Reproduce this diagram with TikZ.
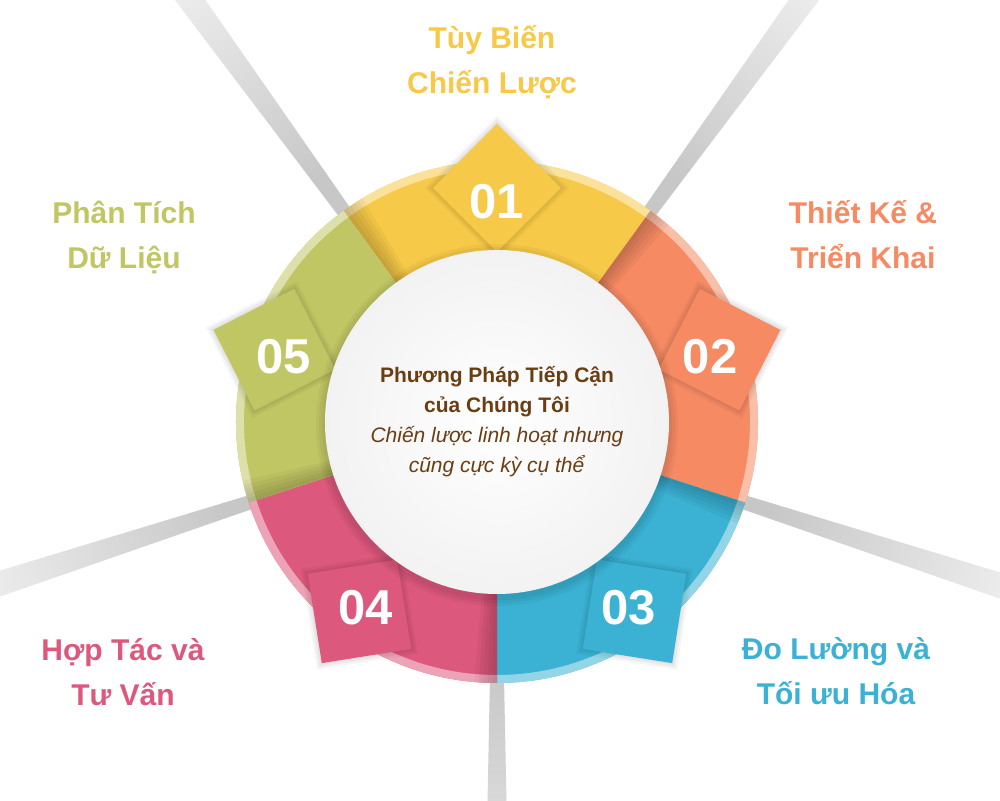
\documentclass[tikz,border=0pt]{standalone}
\usepackage{fontspec}
\setmainfont{Liberation Sans}
\usetikzlibrary{calc}

\begin{document}
\begin{tikzpicture}[x=1pt, y=1pt,
   numlabel/.style = {text=white, font=\fontsize{49}{49}\selectfont\bfseries, inner sep=0},
   sidelabel/.style = {font=\fontsize{30}{45}\selectfont\bfseries, align=center, anchor=base, inner sep=0},
   hub/.style = {circle, minimum size=344, inner sep=0, inner color=white, outer color=black!5,
                 text=centercolor, align=center, font=\fontsize{21}{30}\selectfont},
   shadowlayer/.style = {fill=black, opacity=.04},
   ]

% Define step colors
\definecolor{tuycolor}{HTML}{F7C948}
\definecolor{thietcolor}{HTML}{F58A63}
\definecolor{docolor}{HTML}{3BB2D4}
\definecolor{hopcolor}{HTML}{DC587C}
\definecolor{phancolor}{HTML}{C1C664}
\definecolor{centercolor}{HTML}{6B3E12}

\useasboundingbox (-497,-378) rectangle (503,422);
\fill[white] (-497,-378) rectangle (503,422);
\clip (-497,-378) rectangle (503,422);

% light rays behind the ring
\foreach \r in {126,54,-18,-90,198}
   \shade[top color=white, bottom color=black!22, shading angle=\r-90]
      (\r-1.6:240) -- (\r-1.3:700) -- (\r+1.3:700) -- (\r+1.6:240) -- cycle;

% ring pieces with their tabs
\foreach \a/\c/\n in {90/tuycolor/01, 18/thietcolor/02, -54/docolor/03, -126/hopcolor/04, 162/phancolor/05} {
   \fill[\c] (0,0) -- (\a-36:261) arc[start angle=\a-36, end angle=\a+36, radius=261] -- cycle;
   \fill[\c!55!white] (\a-36:253) arc[start angle=\a-36, end angle=\a+36, radius=253]
      -- (\a+36:261) arc[start angle=\a+36, end angle=\a-36, radius=261] -- cycle;
   % shade where the next piece starts
   \foreach \w in {1,...,5}
      \fill[shadowlayer] (0,0) -- (\a+36-\w:261) arc[start angle=\a+36-\w, end angle=\a+36, radius=261] -- cycle;
   % tab
   \foreach \h in {72,69,66}
      \fill[shadowlayer] ($(\a:234)+(\a:\h)$) -- ($(\a:234)+(\a+90:\h)$) -- ($(\a:234)+(\a:-\h)$) -- ($(\a:234)+(\a-90:\h)$) -- cycle;
   \fill[\c] ($(\a:234)+(\a:64)$) -- ($(\a:234)+(\a+90:64)$) -- ($(\a:234)+(\a:-64)$) -- ($(\a:234)+(\a-90:64)$) -- cycle;
   \node[numlabel, yshift=-4] (num\n) at (\a:224) {\n};
}

% centre
\foreach \s in {9,6,3}
   \fill[shadowlayer] (0,-3) circle[radius={172+\s}];
\node[hub] (hub) at (0,0) {\textbf{Phương Pháp Tiếp Cận}\\ \textbf{của Chúng Tôi}\\
   \textit{Chiến lược linh hoạt nhưng}\\ \textit{cũng cực kỳ cụ thể}};

% step labels
\node[sidelabel, text=tuycolor] (lbl01) at (-5,328) {Tùy Biến\\ Chiến Lược};
\node[sidelabel, text=thietcolor] (lbl02) at (366,153) {Thiết Kế \&\\ Triển Khai};
\node[sidelabel, text=docolor] (lbl03) at (339,-282) {Đo Lường và\\ Tối ưu Hóa};
\node[sidelabel, text=hopcolor] (lbl04) at (-374,-283) {Hợp Tác và\\ Tư Vấn};
\node[sidelabel, text=phancolor] (lbl05) at (-373,153) {Phân Tích\\ Dữ Liệu};

\end{tikzpicture}
\end{document}
